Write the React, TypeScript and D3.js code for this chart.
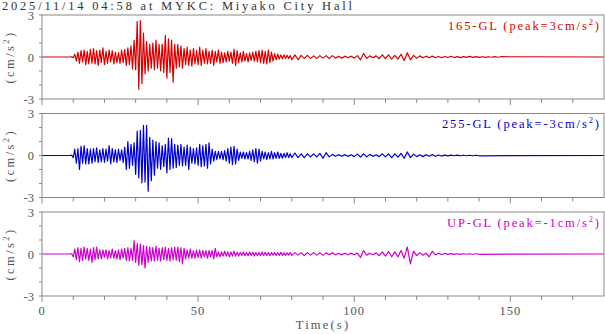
import * as d3 from 'd3';

// 2025/11/14 04:58 MYKC acceleration records
const TITLE = '2025/11/14 04:58 at MYKC: Miyako City Hall';
const T_START = 0;
const T_END = 180;
const ACTIVE_T0 = 9;   // first sample of the active part, step 0.5 s
const ACTIVE_DT = 0.5;
const TAIL_T0 = 80;    // coda, step 1 s
const TAIL_DT = 1;

const X_TICKS = [0, 50, 100, 150];
const X_MINOR = [10, 20, 30, 40, 60, 70, 80, 90, 110, 120, 130, 140, 160, 170];
const Y_LABELS = [3, 0, -3];
const Y_MINOR = [-2, -1, 1, 2];

const NS_ACTIVE = [
  0, 0.02, -0.05, 0.2, -0.3, 0.35, -0.45, 0.45, -0.35, 0.5, -0.55, 0.4, -0.5, 0.55, -0.45, 0.6,
  -0.5, 0.45, -0.6, 0.5, -0.4, 0.65, -0.55, 0.4, -0.45, 0.5, -0.35, 0.45, -0.5, 0.35, -0.4, 0.3,
  -0.45, 0.5, -0.4, 0.55, -0.6, 0.65, -0.55, 0.8, -0.85, 1.2, -0.9, 2.55, -2.3, 2.6, -1.9, 1.7,
  -1.2, 1.1, -1.0, 0.9, -0.8, 1.0, -0.9, 1.2, -0.8, 0.9, -1.0, 0.9, -1.1, 1.55, -1.5, 1.3,
  -1.1, 1.2, -1.8, 0.9, -0.8, 0.9, -0.7, 0.8, -0.8, 0.6, -0.55, 0.7, -0.6, 0.5, -0.65, 0.6,
  -0.5, 0.45, -0.55, 0.7, -0.6, 0.5, -0.45, 0.6, -0.5, 0.4, -0.45, 0.5, -0.6, 0.4, -0.35, 0.5,
  -0.45, 0.35, -0.4, 0.3, -0.35, 0.4, -0.3, 0.35, -0.45, 0.55, -0.6, 0.45, -0.4, 0.3, -0.35, 0.4,
  -0.3, 0.25, -0.35, 0.3, -0.25, 0.35, -0.3, 0.4, -0.35, 0.45, -0.4, 0.5, -0.45, 0.4, -0.5, 0.5,
  -0.4, 0.35, -0.3, 0.25, -0.2, 0.2, -0.15, 0.15, -0.12, 0.15, -0.1, 0.12, -0.1, 0.1,
];
const NS_TAIL = [
  -0.2, 0.15, -0.2, 0.12, -0.1, 0.12, -0.1, 0.08, -0.1, 0.1, -0.08, 0.1, -0.12, 0.1, -0.08, 0.06,
  -0.08, 0.06, -0.05, 0.06, -0.08, 0.1, -0.2, 0.25, -0.1, 0.08, -0.06, 0.08, -0.12, 0.15, -0.12, 0.15,
  -0.15, 0.12, -0.15, 0.2, -0.25, 0.3, -0.2, 0.12, -0.1, 0.08, -0.06, 0.06, -0.05, 0.06, -0.05, 0.04,
  -0.05, 0.04, -0.04, 0.05, -0.04, 0.03, -0.04, 0.03, -0.03, 0.04, -0.03, 0.03, -0.03, 0.02, -0.03, 0.02,
  -0.02, 0.03, -0.02, 0.02,
];

const EW_ACTIVE = [
  0, 0.03, -0.15, 0.45, -0.55, 0.5, -1.0, 0.65, -0.55, 0.7, -0.6, 0.5, -0.6, 0.45, -0.55, 0.5,
  -0.45, 0.55, -0.5, 0.4, -0.45, 0.5, -0.5, 0.45, -0.4, 0.7, -0.6, 0.5, -0.45, 0.4, -0.5, 0.45,
  -0.35, 0.4, -0.5, 0.6, -1.0, 1.0, -0.9, 0.8, -0.7, 0.9, -1.35, 1.75, -1.6, 1.8, -1.95, 2.15,
  -1.9, 2.15, -2.55, 1.3, -1.8, 1.1, -1.4, 1.0, -0.9, 0.9, -1.0, 0.7, -0.8, 0.8, -1.25, 1.25,
  -1.0, 1.2, -0.9, 0.8, -0.85, 0.75, -0.7, 0.8, -0.75, 0.6, -0.7, 0.75, -1.0, 0.6, -0.55, 0.5,
  -0.6, 0.55, -0.7, 0.8, -0.8, 0.7, -0.75, 0.8, -0.9, 0.9, -0.6, 0.45, -0.4, 0.3, -0.3, 0.3,
  -0.25, 0.3, -0.3, 0.35, -0.4, 0.5, -0.55, 0.6, -0.65, 0.65, -0.6, 0.45, -0.35, 0.25, -0.2, 0.25,
  -0.25, 0.2, -0.25, 0.3, -0.35, 0.4, -0.45, 0.5, -0.55, 0.45, -0.4, 0.3, -0.25, 0.25, -0.3, 0.2,
  -0.25, 0.3, -0.25, 0.2, -0.2, 0.25, -0.2, 0.15, -0.2, 0.15, -0.15, 0.2, -0.15, 0.12,
];
const EW_TAIL = [
  -0.15, 0.18, -0.15, 0.12, -0.15, 0.12, -0.1, 0.12, -0.1, 0.15, -0.2, 0.2, -0.1, 0.08, -0.06, 0.06,
  -0.05, 0.06, -0.06, 0.05, -0.08, 0.1, -0.12, 0.12, -0.1, 0.08, -0.06, 0.05, -0.08, 0.12, -0.1, 0.12,
  -0.15, 0.12, -0.12, 0.15, -0.2, 0.25, -0.15, 0.1, -0.08, 0.06, -0.08, 0.06, -0.05, 0.06, -0.05, 0.04,
  -0.04, 0.03, -0.03, 0.03, -0.02, 0.03, -0.02, 0.02, -0.02, 0.02, -0.02, 0.02, -0.02,
];

const UD_ACTIVE = [
  0, 0.02, -0.2, 0.35, -0.4, 0.45, -0.55, 0.4, -0.45, 0.5, -0.35, 0.4, -0.45, 0.35, -0.6, 0.45,
  -0.4, 0.5, -0.35, 0.3, -0.35, 0.3, -0.25, 0.3, -0.35, 0.25, -0.3, 0.35, -0.3, 0.25, -0.35, 0.3,
  -0.4, 0.35, -0.3, 0.4, -0.45, 0.45, -0.5, 0.4, -0.45, 0.95, -0.6, 0.75, -0.8, 0.7, -0.75, 0.6,
  -1.0, 0.55, -0.6, 0.5, -0.5, 0.45, -0.5, 0.55, -0.45, 0.4, -0.5, 0.45, -0.4, 0.5, -0.45, 0.4,
  -0.5, 0.45, -0.4, 0.5, -0.45, 0.5, -0.55, 0.45, -0.7, 0.4, -0.35, 0.3, -0.3, 0.35, -0.3, 0.25,
  -0.3, 0.3, -0.25, 0.3, -0.3, 0.25, -0.2, 0.25, -0.3, 0.25, -0.2, 0.25, -0.35, 0.4, -0.2, 0.15,
  -0.2, 0.15, -0.15, 0.2, -0.15, 0.15, -0.2, 0.15, -0.15, 0.2, -0.15, 0.12, -0.15, 0.12, -0.1, 0.15,
  -0.12, 0.1, -0.12, 0.15, -0.1, 0.12, -0.15, 0.1, -0.12, 0.1, -0.12, 0.15, -0.1, 0.12, -0.1, 0.1,
  -0.12, 0.1, -0.08, 0.1, -0.1, 0.08, -0.1, 0.12, -0.1, 0.08, -0.1, 0.08, -0.08, 0.1,
];
const UD_TAIL = [
  -0.1, 0.1, -0.08, 0.1, -0.12, 0.1, -0.08, 0.1, -0.08, 0.08, -0.1, 0.08, -0.06, 0.08, -0.06, 0.05,
  -0.06, 0.05, -0.05, 0.06, -0.05, 0.06, -0.25, 0.25, -0.08, 0.06, -0.06, 0.08, -0.12, 0.15, -0.15, 0.18,
  -0.2, 0.15, -0.2, 0.25, -0.3, 0.5, -0.7, 0.2, -0.12, 0.1, -0.08, 0.06, -0.2, 0.2, -0.06, 0.05,
  -0.04, 0.04, -0.03, 0.03, -0.03, 0.02, -0.03, 0.02, -0.02, 0.02, -0.02, 0.02, -0.02,
];

const TRACES = [
  { name: '165-GL', peak: '3', color: '#d40000', active: NS_ACTIVE, tail: NS_TAIL, width: 151 },
  { name: '255-GL', peak: '-3', color: '#0000cc', active: EW_ACTIVE, tail: EW_TAIL, width: 157 },
  { name: 'UP-GL', peak: '-1', color: '#cc00cc', active: UD_ACTIVE, tail: UD_TAIL, width: 152 },
];

const W = 605;
const H = 334;
const LEFT = 42;
const RIGHT = 604;
const PANEL_TOPS = [15, 113.5, 212];
const PANEL_H = 84;
const FONT = '"Liberation Serif", "DejaVu Serif", serif';
const GREY = '#555';

function toPoints(active: number[], tail: number[]): [number, number][] {
  const pts: [number, number][] = [[T_START, 0]];
  active.forEach((v, i) => pts.push([ACTIVE_T0 + i * ACTIVE_DT, v]));
  tail.forEach((v, i) => pts.push([TAIL_T0 + i * TAIL_DT, v]));
  pts.push([T_END, 0]);
  return pts;
}

export default function App() {
  const x = d3.scaleLinear().domain([T_START, T_END]).range([LEFT, RIGHT]);

  return (
    <svg width={W} height={H} style={{ position: 'absolute', left: 0, top: 0, background: '#fff' }}
      fontFamily={FONT}>
      <text x={2} y={9.5} fontSize={12.5} fill="#333" textLength={350} lengthAdjust="spacing">{TITLE}</text>

      {TRACES.map((tr, k) => {
        const top = PANEL_TOPS[k];
        const y = d3.scaleLinear().domain([-3, 3]).range([top + PANEL_H, top]);
        const line = d3.line<[number, number]>().x(d => x(d[0])).y(d => y(d[1]));
        const mid = y(0);
        return (
          <g key={tr.name}>
            <path d={line(toPoints(tr.active, tr.tail)) ?? ''} fill="none" stroke={tr.color}
              strokeWidth={1.2} strokeLinejoin="round" />
            <rect x={LEFT} y={top} width={RIGHT - LEFT} height={PANEL_H} fill="none" stroke="#888" />
            {Y_LABELS.concat(Y_MINOR).map(v => (
              <line key={v} x1={LEFT - 3} x2={LEFT} y1={y(v)} y2={y(v)} stroke="#888" />
            ))}
            {Y_LABELS.map(v => (
              <text key={v} x={LEFT - 8} y={y(v)} dy="0.38em" textAnchor="end" fontSize={12.5}
                fill={GREY}>{v}</text>
            ))}
            {X_TICKS.map(v => (
              <line key={v} x1={x(v)} x2={x(v)} y1={top + PANEL_H} y2={top + PANEL_H + 6} stroke="#888" />
            ))}
            {X_MINOR.map(v => (
              <line key={v} x1={x(v)} x2={x(v)} y1={top + PANEL_H} y2={top + PANEL_H + 4} stroke="#888" />
            ))}
            <text transform={`translate(14,${mid}) rotate(-90)`} textAnchor="middle" fontSize={12.5}
              fill={GREY} letterSpacing={2.4}>
              (cm/s<tspan dy={-5} fontSize={8.5}>2</tspan><tspan dy={5}>)</tspan>
            </text>
            <text x={599 - tr.width} y={top + 14.5} fontSize={12.5} fill={tr.color}
              textLength={tr.width} lengthAdjust="spacing">
              {tr.name} (peak={tr.peak}cm/s<tspan dy={-5} fontSize={8.5}>2</tspan><tspan dy={5}>)</tspan>
            </text>
          </g>
        );
      })}

      {X_TICKS.map(v => (
        <text key={v} x={x(v)} y={315} textAnchor="middle" fontSize={12.5} fill={GREY} letterSpacing={1}>{v}</text>
      ))}
      <text x={x(90)} y={329} textAnchor="middle" fontSize={12.5} fill={GREY} letterSpacing={2.2}>Time(s)</text>
    </svg>
  );
}
